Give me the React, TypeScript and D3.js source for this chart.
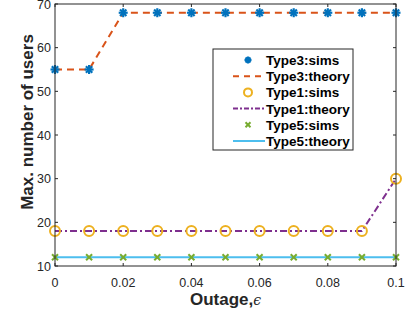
import React, { useEffect, useRef } from "react";
import * as d3 from "d3";

// data
const outage = [0, 0.01, 0.02, 0.03, 0.04, 0.05, 0.06, 0.07, 0.08, 0.09, 0.1];
const type3 = [55, 55, 68, 68, 68, 68, 68, 68, 68, 68, 68];
const type1 = [18, 18, 18, 18, 18, 18, 18, 18, 18, 18, 30];
const type5 = [12, 12, 12, 12, 12, 12, 12, 12, 12, 12, 12];
const xTicks = [0, 0.02, 0.04, 0.06, 0.08, 0.1];
const yTicks = [10, 20, 30, 40, 50, 60, 70];

const C = {
  blue: "#0072BD",
  orange: "#D95319",
  yellow: "#EDB120",
  purple: "#7E2F8E",
  green: "#77AC30",
  cyan: "#4DBEEE",
  axis: "#262626",
};

const FONT = "Helvetica, Arial, 'Liberation Sans', sans-serif";

export default function App() {
  const ref = useRef<SVGSVGElement>(null);

  useEffect(() => {
    const svg = d3.select(ref.current);
    svg.selectAll("*").remove();

    const margin = { top: 4, right: 21, bottom: 48, left: 55 };
    const W = 417, H = 314;
    const width = W - margin.left - margin.right;
    const height = H - margin.top - margin.bottom;

    const x = d3.scaleLinear().domain([0, 0.1]).range([0, width]);
    const y = d3.scaleLinear().domain([10, 70]).range([height, 0]);

    const g = svg.append("g").attr("transform", `translate(${margin.left},${margin.top})`);

    // lines
    const line = (vals: number[]) =>
      d3.line<number>().x((_, i) => x(outage[i])).y(d => y(d))(vals);

    g.append("path").attr("d", line(type5)).attr("fill", "none")
      .attr("stroke", C.cyan).attr("stroke-width", 2);
    g.append("path").attr("d", line(type1)).attr("fill", "none")
      .attr("stroke", C.purple).attr("stroke-width", 2).attr("stroke-dasharray", "7,3,2,3");
    g.append("path").attr("d", line(type3)).attr("fill", "none")
      .attr("stroke", C.orange).attr("stroke-width", 2).attr("stroke-dasharray", "7,5");

    // markers
    const star = (sel: any, cx: number, cy: number, r: number) => {
      for (let k = 0; k < 4; k++) {
        const a = (k * Math.PI) / 4;
        sel.append("line")
          .attr("x1", cx - r * Math.cos(a)).attr("y1", cy - r * Math.sin(a))
          .attr("x2", cx + r * Math.cos(a)).attr("y2", cy + r * Math.sin(a))
          .attr("stroke", C.blue).attr("stroke-width", 2.2);
      }
    };
    const cross = (sel: any, cx: number, cy: number, r: number) => {
      [[-1, -1, 1, 1], [-1, 1, 1, -1]].forEach(([a, b, c, d]) => {
        sel.append("line")
          .attr("x1", cx + a * r).attr("y1", cy + b * r)
          .attr("x2", cx + c * r).attr("y2", cy + d * r)
          .attr("stroke", C.green).attr("stroke-width", 2);
      });
    };

    const m = g.append("g");
    type5.forEach((v, i) => cross(m, x(outage[i]), y(v), 3));
    type1.forEach((v, i) => {
      m.append("circle").attr("cx", x(outage[i])).attr("cy", y(v)).attr("r", 5)
        .attr("fill", "none").attr("stroke", C.yellow).attr("stroke-width", 2);
    });
    type3.forEach((v, i) => star(m, x(outage[i]), y(v), 4.5));

    // axes box
    g.append("rect").attr("width", width).attr("height", height)
      .attr("fill", "none").attr("stroke", C.axis).attr("stroke-width", 1);

    const tl = 3;
    const ax = g.append("g");
    xTicks.forEach(t => {
      ax.append("line").attr("x1", x(t)).attr("x2", x(t)).attr("y1", height).attr("y2", height - tl).attr("stroke", C.axis);
      ax.append("line").attr("x1", x(t)).attr("x2", x(t)).attr("y1", 0).attr("y2", tl).attr("stroke", C.axis);
      ax.append("text").attr("x", x(t)).attr("y", height + 21).attr("text-anchor", "middle")
        .attr("font-size", 12.5).attr("font-family", FONT).attr("fill", C.axis)
        .text(t === 0 ? "0" : String(t));
    });
    yTicks.forEach(t => {
      ax.append("line").attr("x1", 0).attr("x2", tl).attr("y1", y(t)).attr("y2", y(t)).attr("stroke", C.axis);
      ax.append("line").attr("x1", width).attr("x2", width - tl).attr("y1", y(t)).attr("y2", y(t)).attr("stroke", C.axis);
      ax.append("text").attr("x", -4).attr("y", y(t) + 4.5).attr("text-anchor", "end")
        .attr("font-size", 12.5).attr("font-family", FONT).attr("fill", C.axis).text(t);
    });

    // axis labels
    const xl = svg.append("text").attr("x", margin.left + width / 2).attr("y", 305)
      .attr("text-anchor", "middle").attr("font-size", 17).attr("font-family", FONT)
      .attr("fill", C.axis).attr("font-weight", "bold");
    xl.append("tspan").text("Outage,");
    xl.append("tspan").attr("font-weight", "normal").attr("font-style", "italic")
      .attr("font-family", "'DejaVu Serif', serif").attr("font-size", 14).text("ϵ");

    svg.append("text")
      .attr("transform", `translate(33,${margin.top + height / 2 - 13}) rotate(-90)`)
      .attr("text-anchor", "middle").attr("font-size", 17).attr("font-family", FONT)
      .attr("font-weight", "bold").attr("fill", C.axis).text("Max. number of users");

    // legend
    const lg = svg.append("g").attr("transform", "translate(213,49)");
    lg.append("rect").attr("width", 140).attr("height", 101).attr("fill", "white")
      .attr("stroke", C.axis).attr("stroke-width", 1);
    const items = [
      { label: "Type3:sims", kind: "star" },
      { label: "Type3:theory", kind: "dash" },
      { label: "Type1:sims", kind: "circle" },
      { label: "Type1:theory", kind: "dashdot" },
      { label: "Type5:sims", kind: "cross" },
      { label: "Type5:theory", kind: "solid" },
    ];
    items.forEach((it, i) => {
      const cy = 11 + i * 16.2;
      const row = lg.append("g");
      if (it.kind === "star") star(row, 35, cy, 3.5);
      if (it.kind === "cross") cross(row, 35, cy, 2.5);
      if (it.kind === "circle")
        row.append("circle").attr("cx", 35).attr("cy", cy).attr("r", 4)
          .attr("fill", "none").attr("stroke", C.yellow).attr("stroke-width", 2);
      if (it.kind === "dash")
        row.append("line").attr("x1", 20).attr("x2", 52).attr("y1", cy).attr("y2", cy)
          .attr("stroke", C.orange).attr("stroke-width", 2).attr("stroke-dasharray", "6,5");
      if (it.kind === "dashdot")
        row.append("line").attr("x1", 20).attr("x2", 52).attr("y1", cy).attr("y2", cy)
          .attr("stroke", C.purple).attr("stroke-width", 2).attr("stroke-dasharray", "5,2,2,2");
      if (it.kind === "solid")
        row.append("line").attr("x1", 20).attr("x2", 52).attr("y1", cy).attr("y2", cy)
          .attr("stroke", C.cyan).attr("stroke-width", 2);
      row.append("text").attr("x", 53).attr("y", cy + 5).attr("font-size", 13.5)
        .attr("font-weight", "bold").attr("font-family", FONT).attr("fill", "#000").text(it.label);
    });
  }, []);

  return (
    <svg ref={ref} width={417} height={314}
      style={{ position: "absolute", left: 0, top: 0, background: "white" }} />
  );
}
